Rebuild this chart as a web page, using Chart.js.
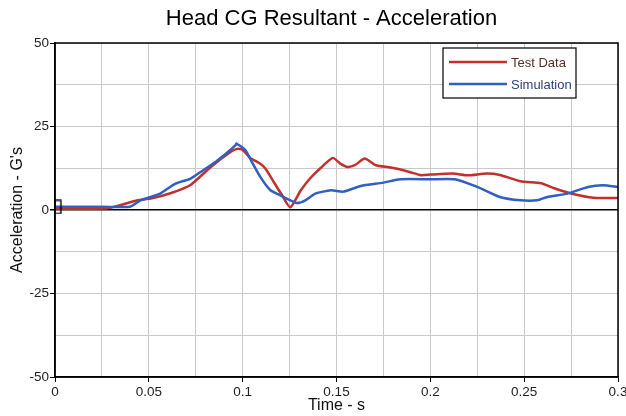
<!DOCTYPE html>
<html>
<head>
<meta charset="utf-8">
<script src="https://cdn.jsdelivr.net/npm/chart.js@4"></script>
<style>
  html, body { margin: 0; padding: 0; background: #fff; }
  #wrap { width: 626px; height: 416px; }
</style>
</head>
<body>
<div id="wrap"><canvas id="accelChart" width="626" height="416"></canvas></div>
<script>
const testTime = [0, 0.01, 0.02, 0.028, 0.035, 0.044, 0.051, 0.0615, 0.072, 0.083, 0.0935, 0.097, 0.1, 0.104, 0.109, 0.112, 0.117, 0.121, 0.1254,
    0.131, 0.136, 0.1414, 0.148, 0.152, 0.156, 0.16, 0.165, 0.171, 0.179, 0.189, 0.195, 0.2, 0.212, 0.22, 0.23, 0.237, 0.248, 0.259, 0.266, 0.276, 0.287, 0.3];
const testAccel = [0.4, 0.4, 0.4, 0.5, 1.5, 2.9, 3.4, 5, 7.4, 12.9, 17.4, 18.3, 18, 15.6, 14, 12.5, 8, 4.4, 0.8,
    5.9, 9.5, 12.5, 15.6, 13.9, 12.9, 13.5, 15.4, 13.4, 12.7, 11.4, 10.4, 10.6, 10.9, 10.4, 10.9, 10.5, 8.6, 8, 6.5, 4.8, 3.7, 3.6];

const simTime = [0, 0.02, 0.04, 0.0455, 0.051, 0.056, 0.0642, 0.0723, 0.0776, 0.0855, 0.0912, 0.0962, 0.0967, 0.1015, 0.1044, 0.1094, 0.1148, 0.1201,
    0.1254, 0.1292, 0.1334, 0.1387, 0.147, 0.1536, 0.163, 0.175, 0.184, 0.2, 0.213, 0.225, 0.237, 0.248, 0.257, 0.2623, 0.273, 0.284, 0.292, 0.3];
const simAccel = [1, 1, 1, 2.9, 3.9, 4.9, 7.9, 9.4, 11.4, 14.4, 16.9, 19.4, 19.9, 17.9, 14.9, 9.9, 5.9, 4.4,
    2.9, 2.1, 2.9, 4.9, 5.9, 5.5, 7.2, 8.2, 9.2, 9.2, 9.2, 6.9, 3.9, 2.9, 2.9, 3.9, 4.9, 6.9, 7.4, 6.9];

// start-of-record marker
const markerTime = [0.0015];
const markerAccel = [0.9];

const seriesNames = ['Test Data', 'Simulation'];
const seriesColors = ['#c3302b', '#2f5fc2'];
const legendTextColors = ['#5a2a24', '#2c3f78'];

const xTicksLabelled = [0, 0.05, 0.1, 0.15, 0.2, 0.25, 0.3];
const yTicksLabelled = [50, 25, 0, -25, -50];

const FONT = '"Liberation Sans", Arial, sans-serif';

document.addEventListener('DOMContentLoaded', () => {
    initChart();
});

function isLabelled(list, v) {
    return list.some(t => Math.abs(t - v) < 1e-6);
}

function toPoints(xs, ys) {
    return xs.map((x, i) => ({ x: x, y: ys[i] }));
}

// tall hollow box used as the point style for the marker
function makeMarker() {
    const c = document.createElement('canvas');
    c.width = 8;
    c.height = 15;
    const g = c.getContext('2d');
    g.strokeStyle = '#000';
    g.lineWidth = 1.3;
    g.strokeRect(1, 1, 6, 13);
    return c;
}

// frame, title and boxed legend
const framePlugin = {
    id: 'frame',
    afterDraw(chart) {
        const { ctx, chartArea: a } = chart;
        ctx.save();
        ctx.strokeStyle = '#000';
        ctx.lineWidth = 1.5;
        ctx.strokeRect(a.left, a.top, a.right - a.left, a.bottom - a.top);

        ctx.fillStyle = '#000';
        ctx.font = '22px ' + FONT;
        ctx.textAlign = 'center';
        ctx.textBaseline = 'middle';
        ctx.fillText('Head CG Resultant - Acceleration', (a.left + a.right) / 2 - 5, 19);

        const bx = a.right - 175, by = a.top + 5, bw = 133, bh = 50;
        ctx.fillStyle = '#fff';
        ctx.fillRect(bx, by, bw, bh);
        ctx.lineWidth = 1.2;
        ctx.strokeStyle = '#000';
        ctx.strokeRect(bx, by, bw, bh);
        ctx.font = '13px ' + FONT;
        ctx.textAlign = 'left';
        seriesNames.forEach((name, i) => {
            const ly = by + 14 + i * 22;
            ctx.strokeStyle = seriesColors[i];
            ctx.lineWidth = 2.5;
            ctx.beginPath();
            ctx.moveTo(bx + 6, ly);
            ctx.lineTo(bx + 64, ly);
            ctx.stroke();
            ctx.fillStyle = legendTextColors[i];
            ctx.fillText(name, bx + 68, ly + 1);
        });
        ctx.restore();
    }
};

function initChart() {
    const chart = document.getElementById('accelChart')?.getContext('2d');
    if (!chart) return;

    new Chart(chart, {
        type: 'scatter',
        data: getChartData(),
        options: getChartOptions(),
        plugins: [framePlugin]
    });
}

function getChartData() {
    return {
        datasets: [{
            label: seriesNames[0],
            data: toPoints(testTime, testAccel),
            showLine: true,
            borderColor: seriesColors[0],
            borderWidth: 2.5,
            pointRadius: 0,
            tension: 0.2,
            order: 2
        }, {
            label: seriesNames[1],
            data: toPoints(simTime, simAccel),
            showLine: true,
            borderColor: seriesColors[1],
            borderWidth: 2.5,
            pointRadius: 0,
            tension: 0.2,
            order: 1
        }, {
            label: 'marker',
            data: toPoints(markerTime, markerAccel),
            pointStyle: makeMarker(),
            pointRadius: 7,
            clip: false,
            order: 0
        }]
    };
}

function getChartOptions() {
    return {
        responsive: false,
        animation: false,
        layout: { padding: { top: 43, right: 8, left: 0, bottom: 0 } },
        plugins: {
            legend: { display: false },
            title: { display: false },
            tooltip: { enabled: false }
        },
        scales: {
            x: {
                type: 'linear',
                min: 0,
                max: 0.3,
                afterFit: s => { s.height = 39; s.paddingLeft = 0; s.paddingRight = 0; },
                afterBuildTicks: s => {
                    s.ticks = [];
                    for (let i = 0; i <= 12; i++) s.ticks.push({ value: +(i * 0.025).toFixed(3) });
                },
                border: { color: '#000', width: 1.5 },
                grid: {
                    color: '#c9c9c9',
                    lineWidth: 1,
                    tickLength: 5,
                    tickColor: c => isLabelled(xTicksLabelled, c.tick.value) ? '#000' : 'rgba(0,0,0,0)'
                },
                ticks: {
                    color: '#222',
                    font: { family: FONT, size: 13.5 },
                    padding: 2,
                    maxRotation: 0,
                    autoSkip: false,
                    callback: v => isLabelled(xTicksLabelled, v) ? String(+v.toFixed(3)) : ''
                },
                title: {
                    display: true,
                    text: 'Time - s',
                    color: '#111',
                    font: { family: FONT, size: 16 },
                    padding: { top: 0, bottom: 1 }
                }
            },
            y: {
                min: -50,
                max: 50,
                afterFit: s => { s.width = 55; },
                afterBuildTicks: s => {
                    s.ticks = [];
                    for (let i = 0; i <= 8; i++) s.ticks.push({ value: -50 + i * 12.5 });
                },
                border: { color: '#000', width: 1.5 },
                grid: {
                    color: c => c.tick.value === 0 ? '#000' : '#c9c9c9',
                    lineWidth: c => c.tick.value === 0 ? 1.5 : 1,
                    tickLength: 5,
                    tickColor: c => isLabelled(yTicksLabelled, c.tick.value) ? '#000' : 'rgba(0,0,0,0)'
                },
                ticks: {
                    color: '#222',
                    font: { family: FONT, size: 13.5 },
                    padding: 1,
                    autoSkip: false,
                    callback: v => isLabelled(yTicksLabelled, v) ? String(v) : ''
                },
                title: {
                    display: true,
                    text: "Acceleration - G's",
                    color: '#111',
                    font: { family: FONT, size: 16 },
                    padding: { top: 8, bottom: 0 }
                }
            }
        }
    };
}
</script>
</body>
</html>
